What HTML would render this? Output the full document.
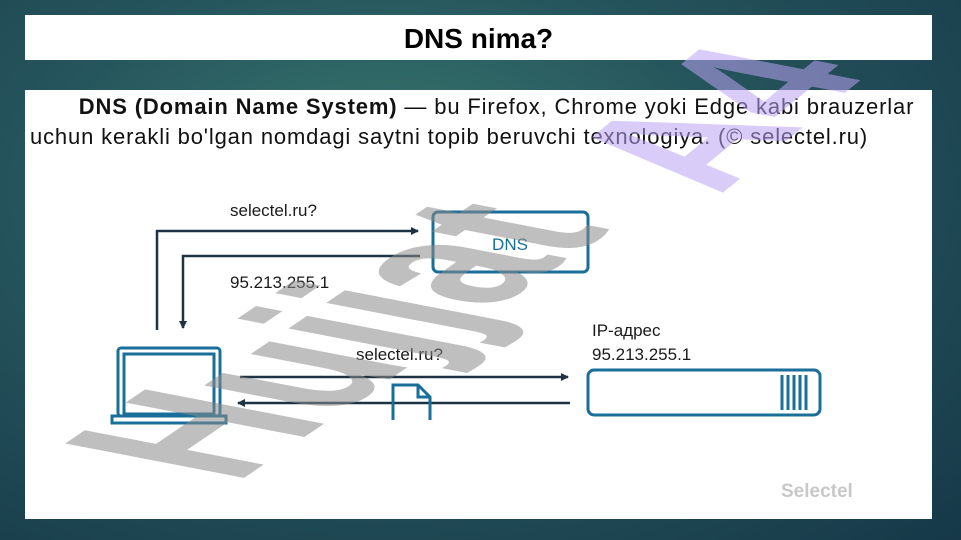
<!DOCTYPE html>
<html><head><meta charset="utf-8"><style>
html,body{margin:0;padding:0}
body{width:961px;height:540px;overflow:hidden;position:relative;background:radial-gradient(ellipse at 40% 35%,#3a7a70 0%,#25545c 45%,#163848 100%);font-family:"Liberation Sans",sans-serif}
.title{position:absolute;left:25px;top:15px;width:907px;height:45px;background:#fff;text-align:center;font-weight:bold;font-size:28px;line-height:47px;color:#000}
.box{position:absolute;left:25px;top:90px;width:907px;height:429px;background:#fff}
.txt{position:absolute;left:30px;top:92px;width:895px;font-size:22px;letter-spacing:0.85px;line-height:30px;color:#111}
svg{position:absolute;left:0;top:0}
</style></head><body>
<div class="title">DNS nima?</div>
<div class="box"></div>
<div class="txt">&nbsp;&nbsp;&nbsp;&nbsp;&nbsp;&nbsp;&nbsp;<b>DNS (Domain Name System)</b> — bu Firefox, Chrome yoki Edge kabi brauzerlar uchun kerakli bo'lgan nomdagi saytni topib beruvchi texnologiya. (© selectel.ru)</div>
<svg width="961" height="540" viewBox="0 0 961 540">
<defs><marker id="ar" markerWidth="8" markerHeight="8" refX="7" refY="4" orient="auto" markerUnits="userSpaceOnUse"><path d="M0,0 L8,4 L0,8z" fill="#1d3344"/></marker></defs>
<g font-family="Liberation Sans, sans-serif" fill="#1a1a1a" font-size="17">
<text x="230" y="216">selectel.ru?</text>
<text x="230" y="288">95.213.255.1</text>
<text x="356" y="360">selectel.ru?</text>
<text x="592" y="336">IP-адрес</text>
<text x="592" y="360">95.213.255.1</text>
</g>
<g stroke="#1d3344" stroke-width="2.5" fill="none">
<polyline points="157,330 157,231 418,231" marker-end="url(#ar)"/>
<polyline points="420,256 183,256 183,328" marker-end="url(#ar)"/>
<line x1="240" y1="377" x2="568" y2="377" marker-end="url(#ar)"/>
<line x1="570" y1="403" x2="238" y2="403" marker-end="url(#ar)"/>
</g>
<g stroke="#1a6e9a" stroke-width="3" fill="none">
<rect x="433" y="212" width="155" height="60" rx="5"/>
<rect x="588" y="370" width="232" height="45" rx="6"/>
<line x1="782" y1="375" x2="782" y2="410"/><line x1="788" y1="375" x2="788" y2="410"/><line x1="794" y1="375" x2="794" y2="410"/><line x1="800" y1="375" x2="800" y2="410"/><line x1="806" y1="375" x2="806" y2="410"/>
<rect x="118" y="348" width="102" height="68" rx="3"/>
<rect x="124" y="354" width="90" height="60"/>
<path d="M112,416 H226 V423 H112 Z"/>
<path d="M393,420 V385 H418 L430,397 V420 M418,385 V397 H430"/>
</g>
<text x="510" y="250" text-anchor="middle" font-family="Liberation Sans, sans-serif" font-size="17" fill="#1a6e9a">DNS</text>
<text x="781" y="497" font-family="Liberation Sans, sans-serif" font-size="19" font-weight="bold" fill="#c8c8c8">Selectel</text>
<text transform="matrix(0.68,-0.46,1.3,0.25,235,484)" font-family="Liberation Sans, sans-serif" font-weight="bold" font-size="200" fill="#8a8a8a" fill-opacity="0.55">Hujjat</text>
<text transform="matrix(0.66,-0.54,1.3,0.25,720,195)" font-family="Liberation Sans, sans-serif" font-weight="bold" font-size="180" fill="#b9a3f2" fill-opacity="0.55">A4</text>
</svg>
</body></html>
